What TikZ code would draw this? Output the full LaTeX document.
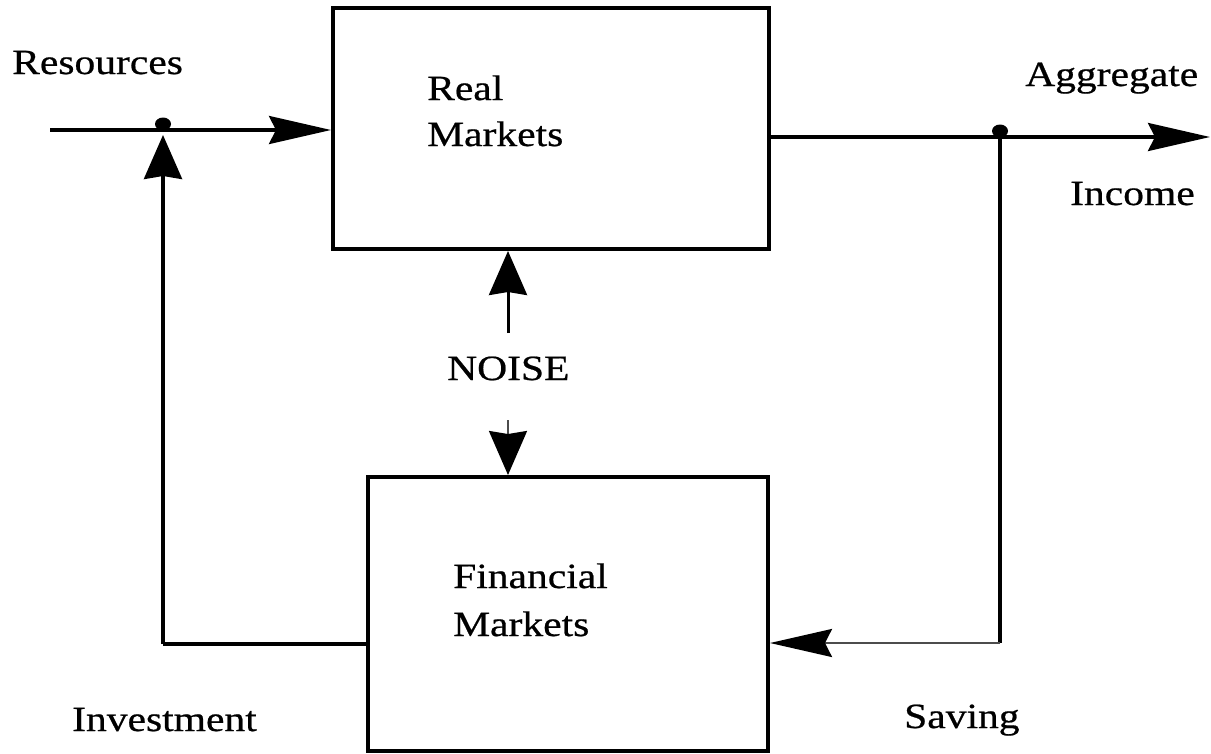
\documentclass[tikz,border=0pt]{standalone}
\usepackage{fontspec}
\setmainfont{Liberation Serif}[FakeStretch=1.17,FakeBold=0.6]
\usetikzlibrary{arrows.meta}
\tikzset{
  box/.style={draw, line width=4pt, rectangle, inner sep=0pt},
  lbl/.style={anchor=base west, inner sep=0pt, font=\fontsize{35.5}{46}\selectfont},
  wire/.style={line width=3.5pt},
  thinwire/.style={line width=2.5pt, draw=black!70},
  harrow/.style={-{Stealth[length=62pt,width=28pt,inset=7pt,color=black]}},
  varrow/.style={-{Stealth[length=44pt,width=38pt,inset=3pt,color=black]}},
  dotnode/.style={ellipse, fill=black, inner sep=0pt, minimum width=16pt, minimum height=13pt},
}
\usetikzlibrary{shapes.geometric}
\begin{document}
\begin{tikzpicture}[x=1pt,y=-1pt]
\useasboundingbox (0,0) rectangle (1211,753);
% boxes
\node[box, minimum width=436pt, minimum height=241pt] (real) at (551,128.5) {};
\node[box, minimum width=400pt, minimum height=274pt] (fin) at (568,614) {};
% texts
\node[lbl] (realA) at (427,100) {Real};
\node[lbl] (realB) at (427,146) {Markets};
\node[lbl] (finA) at (453,588) {Financial};
\node[lbl] (finB) at (453,636) {Markets};
\node[lbl] (res) at (12,74) {Resources};
\node[lbl] (agg) at (1025,86) {Aggregate};
\node[lbl] (inc) at (1070,205) {Income};
\node[lbl] (noise) at (447,380) {NOISE};
\node[lbl] (inv) at (72,731) {Investment};
\node[lbl] (sav) at (904,728) {Saving};
% junction dots
\node[dotnode] (d1) at (163,124) {};
\node[dotnode] (d2) at (1000,131) {};
% coordinates
\coordinate (inL) at (50,130);
\coordinate (upT) at (163,135);
\coordinate (invc) at (163,644);
\coordinate (outE) at (1210,137);
\coordinate (savc) at (1000,643);
\coordinate (n1) at (508,333);
\coordinate (n2) at (508,420);
% resources in
\draw[wire, harrow] (inL) -- (inL -| real.west);
% investment loop
\draw[wire] (invc -| fin.west) -- (invc);
\draw[wire, varrow] (invc) -- (upT);
% aggregate income out
\draw[wire, harrow] (outE -| real.east) -- (outE);
% saving loop
\draw[wire] (d2.center) -- (savc);
\draw[thinwire, harrow] (savc) -- (savc -| fin.east);
% noise
\draw[line width=3pt, varrow] (n1) -- (n1 |- real.south);
\draw[line width=2pt, draw=black!70, varrow] (n2) -- (n2 |- fin.north);
\end{tikzpicture}
\end{document}
